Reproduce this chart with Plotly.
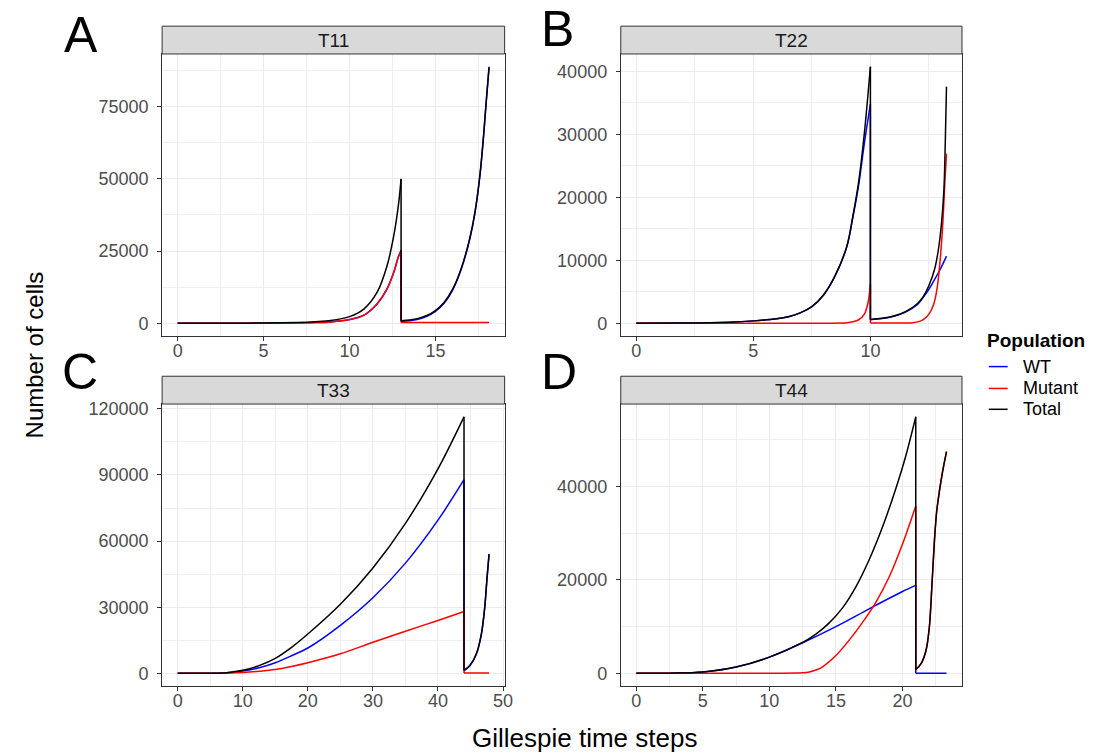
import plotly.graph_objects as go

FONT = "Liberation Sans, Arial, Helvetica, sans-serif"
W, H = 1107, 754

# ---------------- data ----------------
panel_names = ["T11", "T22", "T33", "T44"]
panel_letters = ["A", "B", "C", "D"]
series_names = ["WT", "Mutant", "Total"]

# T11
t11_p1_time = [0, 2, 4, 6, 7, 8, 8.9, 10, 10.83, 11.6, 12.18, 12.57, 12.86, 13.0]
t11_p1_wt = [1, 4, 17, 70, 140, 260, 470, 1300, 2800, 6700, 11900, 17600, 23300, 25300]
t11_p1_mut = [1, 4, 17, 70, 140, 260, 460, 1270, 2750, 6640, 11800, 17540, 23280, 24700]
t11_p1_tot = [2, 8, 35, 150, 300, 560, 930, 2300, 4900, 10660, 19840, 30160, 41600, 50000]
t11_p2_time = [13.0, 13.5, 14.0, 14.5, 15.0, 15.5, 16.0, 16.5, 17.0, 17.3, 17.6, 17.8, 17.95, 18.12]
t11_p2_wt = [600, 850, 1400, 2400, 4100, 6900, 11500, 18700, 29200, 38200, 51700, 64700, 76200, 88520]
t11_p2_mut_time = [13.0, 18.12]
t11_p2_mut = [300, 300]
t11_p2_tot = [900, 1150, 1700, 2700, 4400, 7200, 11800, 19000, 29500, 38500, 52000, 65000, 76500, 88820]

# T22
t22_p1_time = [0, 2, 4, 5, 6, 6.5, 7, 7.5, 8, 8.5, 9, 9.25, 9.5, 9.75, 10.0]
t22_p1_tot = [5, 40, 180, 380, 720, 1050, 1650, 2650, 4500, 7600, 12300, 17000, 22500, 30500, 40740]
t22_p1_wt = [5, 40, 180, 380, 720, 1050, 1650, 2650, 4500, 7600, 12250, 16800, 22000, 28800, 34800]
t22_p1_mut_time = [0, 8.0, 9.0, 9.25, 9.5, 9.75, 9.9, 10.0]
t22_p1_mut = [0, 10, 80, 230, 560, 1500, 3300, 6190]
t22_p2_time = [10.0, 10.5, 11.0, 11.5, 12.0, 12.25, 12.5, 12.75, 12.9, 13.03, 13.14, 13.2, 13.25]
t22_p2_tot = [600, 780, 1150, 1850, 3100, 4200, 6000, 8700, 11600, 15600, 21150, 29000, 37590]
t22_p2_wt_time = [10.0, 10.5, 11.0, 11.5, 12.0, 12.25, 12.5, 12.75, 13.0, 13.25]
t22_p2_wt = [550, 740, 1100, 1780, 2950, 4100, 5400, 7000, 8700, 10660]
t22_p2_mut_time = [10.0, 11.0, 11.8, 12.1, 12.3, 12.5, 12.7, 12.85, 13.0, 13.1, 13.18, 13.25]
t22_p2_mut = [50, 50, 100, 300, 700, 1450, 3000, 5600, 10900, 16300, 22400, 26930]

# T33
t33_p1_time = [0, 5, 7.5, 10, 12.5, 15, 17.5, 20, 25, 30, 35, 40, 44]
t33_p1_wt = [2, 40, 250, 1000, 2500, 4800, 8000, 11500, 21800, 34320, 50000, 69500, 87860]
t33_p1_mut = [1, 20, 80, 350, 900, 1700, 3100, 4800, 8860, 14080, 19100, 24000, 28030]
t33_p1_tot = [3, 60, 300, 1350, 3500, 6800, 11800, 17860, 31350, 47820, 68060, 92800, 116370]
t33_p2_time = [44, 44.9, 45.9, 46.67, 47.18, 47.54, 47.85]
t33_p2_wt = [1200, 3450, 8700, 17700, 29680, 43170, 53970]
t33_p2_tot = [1350, 3600, 8860, 17860, 29830, 43320, 54120]
t33_p2_mut_time = [44, 47.85]
t33_p2_mut = [150, 150]

# T44
t44_p1_time = [0, 2.5, 5, 7.5, 10, 12.5, 13.5, 14.5, 15.5, 16.5, 17.5, 18.5, 19.5, 20.25, 21]
t44_p1_tot = [2, 40, 280, 1340, 3460, 6640, 8400, 10800, 14000, 18500, 24300, 31300, 39500, 46500, 54870]
t44_p1_wt_time = [0, 2.5, 5, 7.5, 10, 12.5, 15, 17.5, 20, 21]
t44_p1_wt = [2, 40, 280, 1340, 3460, 6540, 10000, 13800, 17500, 18810]
t44_p1_mut_time = [0, 11, 12, 12.5, 13, 13.5, 14, 15, 16, 17, 18, 19, 20, 21]
t44_p1_mut = [0, 30, 60, 120, 300, 700, 1400, 3800, 7100, 10900, 15200, 20600, 27600, 35780]
t44_p2_time = [21.0, 21.4, 21.77, 22.02, 22.22, 22.4, 22.57, 22.77, 23.01, 23.31]
t44_p2_tot = [780, 2060, 4880, 9820, 19020, 28210, 34570, 38810, 43050, 47440]
t44_p2_mut = [780, 2060, 4880, 9820, 19020, 28210, 34570, 38810, 43050, 47440]
t44_p2_wt_time = [21.0, 23.31]
t44_p2_wt = [0, 0]

# tick labels
t11_xticks = [0, 5, 10, 15]
t11_yticks = [0, 25000, 50000, 75000]
t22_xticks = [0, 5, 10]
t22_yticks = [0, 10000, 20000, 30000, 40000]
t33_xticks = [0, 10, 20, 30, 40, 50]
t33_yticks = [0, 30000, 60000, 90000, 120000]
t44_xticks = [0, 5, 10, 15, 20]
t44_yticks = [0, 20000, 40000]

# ---------------- assemble ----------------
panels = [
    {"WT": (t11_p1_time, t11_p1_wt, t11_p2_time, t11_p2_wt),
     "Mutant": (t11_p1_time, t11_p1_mut, t11_p2_mut_time, t11_p2_mut),
     "Total": (t11_p1_time, t11_p1_tot, t11_p2_time, t11_p2_tot),
     "xt": t11_xticks, "yt": t11_yticks},
    {"WT": (t22_p1_time, t22_p1_wt, t22_p2_wt_time, t22_p2_wt),
     "Mutant": (t22_p1_mut_time, t22_p1_mut, t22_p2_mut_time, t22_p2_mut),
     "Total": (t22_p1_time, t22_p1_tot, t22_p2_time, t22_p2_tot),
     "xt": t22_xticks, "yt": t22_yticks},
    {"WT": (t33_p1_time, t33_p1_wt, t33_p2_time, t33_p2_wt),
     "Mutant": (t33_p1_time, t33_p1_mut, t33_p2_mut_time, t33_p2_mut),
     "Total": (t33_p1_time, t33_p1_tot, t33_p2_time, t33_p2_tot),
     "xt": t33_xticks, "yt": t33_yticks},
    {"WT": (t44_p1_wt_time, t44_p1_wt, t44_p2_wt_time, t44_p2_wt),
     "Mutant": (t44_p1_mut_time, t44_p1_mut, t44_p2_time, t44_p2_mut),
     "Total": (t44_p1_time, t44_p1_tot, t44_p2_time, t44_p2_tot),
     "xt": t44_xticks, "yt": t44_yticks},
]
colors = {"WT": "#0000FF", "Mutant": "#FF0000", "Total": "#000000"}

fig = go.Figure()

for i, p in enumerate(panels):
    n = "" if i == 0 else str(i + 1)
    xa, ya = "x" + n, "y" + n
    for s in series_names:
        t1, v1, t2, v2 = p[s]
        line = dict(color=colors[s], width=1.5)
        fig.add_trace(go.Scatter(x=t1, y=v1, mode="lines", line=dict(shape="spline", smoothing=0.9, **line),
                                 name=s, legendgroup=s, showlegend=False,
                                 xaxis=xa, yaxis=ya, hoverinfo="skip"))
        fig.add_trace(go.Scatter(x=[t1[-1], t2[0]], y=[v1[-1], v2[0]], mode="lines", line=line,
                                 name=s, legendgroup=s, showlegend=False,
                                 xaxis=xa, yaxis=ya, hoverinfo="skip"))
        fig.add_trace(go.Scatter(x=t2, y=v2, mode="lines", line=dict(shape="spline", smoothing=0.9, **line),
                                 name=s, legendgroup=s, showlegend=False,
                                 xaxis=xa, yaxis=ya, hoverinfo="skip"))

# domains (pixel geometry of the panels)
def px_x(a, b):
    return [a / W, b / W]

def px_y(top, bottom):
    return [1 - bottom / H, 1 - top / H]

x_dom = [px_x(163.3, 508.3), px_x(625.3, 969.0), px_x(163.3, 508.3), px_x(625.3, 969.0)]
y_dom = [px_y(49.3, 333.3), px_y(49.3, 333.3), px_y(401.7, 685.7), px_y(401.7, 685.7)]

tickfont = dict(family=FONT, size=18, color="#4D4D4D")
layout = {}
for i, p in enumerate(panels):
    n = "" if i == 0 else str(i + 1)
    allx, ally = [], []
    for s in series_names:
        t1, v1, t2, v2 = p[s]
        allx += list(t1) + list(t2)
        ally += list(v1) + list(v2)
    xmin, xmax = min(allx), max(allx)
    ymin, ymax = min(ally), max(ally)
    xs, ys = xmax - xmin, ymax - ymin
    xt, yt = p["xt"], p["yt"]
    common = dict(showline=True, mirror=True, linecolor="#333333", linewidth=1,
                  ticks="outside", ticklen=4, tickcolor="#333333", tickwidth=1,
                  showgrid=True, gridcolor="#EBEBEB", gridwidth=1.3, zeroline=False,
                  tickfont=tickfont)
    layout["xaxis" + n] = dict(domain=x_dom[i], anchor="y" + n,
                               range=[xmin - 0.05 * xs, xmax + 0.05 * xs],
                               tickmode="array", tickvals=xt, ticktext=[str(v) for v in xt],
                               minor=dict(dtick=(xt[1] - xt[0]) / 2, tick0=0, showgrid=True,
                                          gridcolor="#EEEEEE", gridwidth=0.8, ticks=""),
                               ticklabelstandoff=-6, **common)
    layout["yaxis" + n] = dict(domain=y_dom[i], anchor="x" + n,
                               range=[ymin - 0.05 * ys, ymax + 0.05 * ys],
                               tickmode="array", tickvals=yt, ticktext=[str(v) for v in yt],
                               minor=dict(dtick=(yt[1] - yt[0]) / 2, tick0=0, showgrid=True,
                                          gridcolor="#EEEEEE", gridwidth=0.8, ticks=""),
                               ticklabelstandoff=5, **common)

shapes = []
annotations = []
strip_h = 28.0 / 284.0
for i, name in enumerate(panel_names):
    n = "" if i == 0 else str(i + 1)
    shapes.append(dict(type="rect", xref="x" + n + " domain", yref="y" + n + " domain",
                       x0=0, x1=1, y0=1, y1=1 + strip_h, fillcolor="#D9D9D9",
                       line=dict(color="#333333", width=1), layer="above"))
    annotations.append(dict(text=name, xref="x" + n + " domain", yref="y" + n + " domain",
                            x=0.5, y=1 + strip_h / 2, showarrow=False, xanchor="center", yanchor="middle",
                            font=dict(family=FONT, size=19, color="#1A1A1A")))

letter_pos = [(82, 30), (562, 24), (81, 369), (563, 369)]
for (lx, ly), L in zip(letter_pos, panel_letters):
    annotations.append(dict(text=L, xref="paper", yref="paper", x=lx / W, y=1 - ly / H,
                            showarrow=False, xanchor="center", yanchor="middle",
                            font=dict(family=FONT, size=50, color="#000000")))

annotations.append(dict(text="Number of cells", xref="paper", yref="paper", x=35 / W, y=1 - 352 / H,
                        textangle=-90, showarrow=False, xanchor="center", yanchor="middle",
                        font=dict(family=FONT, size=24, color="#000000")))
annotations.append(dict(text="Gillespie time steps", xref="paper", yref="paper", x=589 / W, y=1 - 738 / H,
                        showarrow=False, xanchor="center", yanchor="middle",
                        font=dict(family=FONT, size=26, color="#000000")))

# legend (drawn manually to match ggplot's guide layout)
legend_title = "Population"
legend_rows_y = [364, 386, 407]
annotations.append(dict(text="<b>" + legend_title + "</b>", xref="paper", yref="paper",
                        x=992 / W, y=1 - 338 / H, showarrow=False, xanchor="left", yanchor="middle",
                        font=dict(family=FONT, size=19, color="#000000")))
for s, ry in zip(series_names, legend_rows_y):
    shapes.append(dict(type="line", xref="paper", yref="paper", x0=996 / W, x1=1015 / W,
                       y0=1 - ry / H, y1=1 - ry / H, line=dict(color=colors[s], width=1.5)))
    annotations.append(dict(text=s, xref="paper", yref="paper", x=1028 / W, y=1 - ry / H,
                            showarrow=False, xanchor="left", yanchor="middle",
                            font=dict(family=FONT, size=18, color="#000000")))

fig.update_layout(
    width=W, height=H, margin=dict(l=0, r=0, t=0, b=0),
    paper_bgcolor="white", plot_bgcolor="white",
    shapes=shapes, annotations=annotations,
    showlegend=False,
    **layout,
)

fig.write_html("out.html")
